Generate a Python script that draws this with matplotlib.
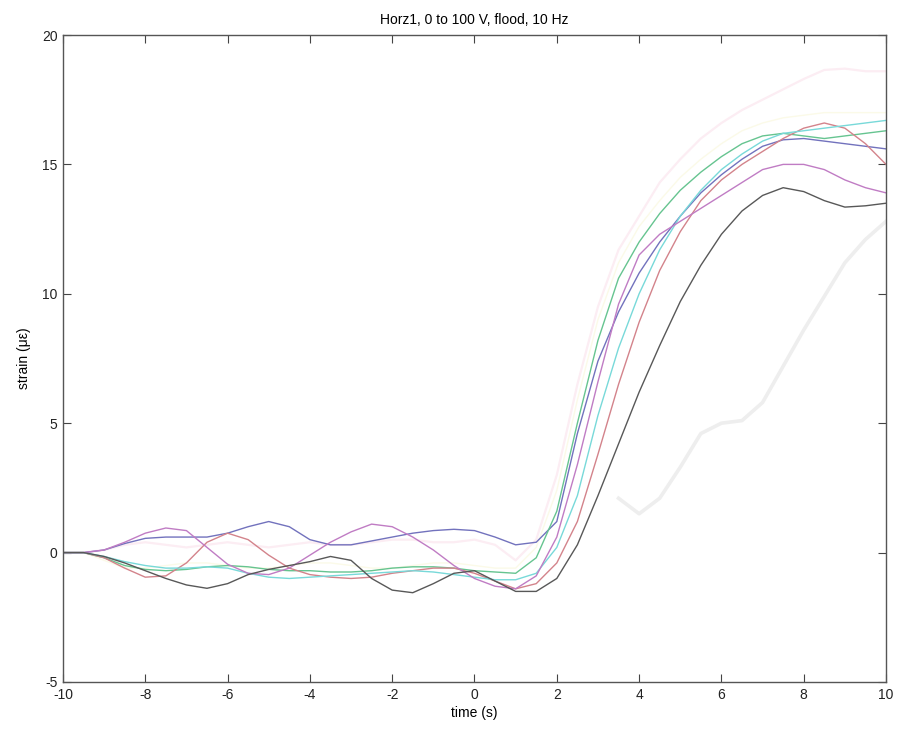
import numpy as np
import matplotlib
matplotlib.use("Agg")
import matplotlib.pyplot as plt

plt.rcParams["axes.unicode_minus"] = False

# time base (s), one sample every 0.5 s
t = np.arange(-10.0, 10.01, 0.5)

# strain traces (microstrain)
trace_b = [0, 0, 0.1, 0.35, 0.55, 0.6, 0.6, 0.6, 0.75, 1.0, 1.2, 1.0, 0.5, 0.3, 0.3, 0.45, 0.6, 0.75, 0.85, 0.9, 0.85,
           0.6, 0.3, 0.4, 1.2, 4.6, 7.4, 9.3, 10.8, 12.0, 13.0, 13.9, 14.6, 15.2, 15.7, 15.95, 16.0, 15.9, 15.8, 15.7, 15.6]
trace_g = [0, 0, -0.2, -0.5, -0.65, -0.7, -0.65, -0.55, -0.5, -0.55, -0.65, -0.7, -0.7, -0.75, -0.75, -0.7, -0.6, -0.55,
           -0.55, -0.6, -0.7, -0.75, -0.8, -0.2, 1.6, 5.0, 8.2, 10.6, 12.0, 13.1, 14.0, 14.7, 15.3, 15.8, 16.1, 16.2, 16.1,
           16.0, 16.1, 16.2, 16.3]
trace_r = [0, 0, -0.2, -0.6, -0.95, -0.9, -0.4, 0.4, 0.75, 0.5, -0.1, -0.6, -0.85, -0.95, -1.0, -0.95, -0.8, -0.7, -0.6,
           -0.6, -0.8, -1.1, -1.4, -1.2, -0.4, 1.2, 3.8, 6.5, 8.9, 10.9, 12.4, 13.6, 14.4, 15.0, 15.5, 16.0, 16.4, 16.6,
           16.4, 15.8, 15.0]
trace_c = [0, 0, -0.15, -0.35, -0.5, -0.6, -0.6, -0.55, -0.6, -0.8, -0.95, -1.0, -0.95, -0.9, -0.85, -0.8, -0.75, -0.7,
           -0.75, -0.85, -0.95, -1.05, -1.05, -0.8, 0.2, 2.2, 5.3, 7.9, 10.0, 11.7, 13.0, 14.0, 14.8, 15.4, 15.9, 16.2,
           16.3, 16.4, 16.5, 16.6, 16.7]
trace_m = [0, 0, 0.1, 0.4, 0.75, 0.95, 0.85, 0.2, -0.45, -0.8, -0.85, -0.6, -0.1, 0.4, 0.8, 1.1, 1.0, 0.6, 0.1, -0.5,
           -1.0, -1.3, -1.4, -0.9, 0.6, 3.4, 6.6, 9.6, 11.5, 12.3, 12.8, 13.3, 13.8, 14.3, 14.8, 15.0, 15.0, 14.8, 14.4,
           14.1, 13.9]
trace_k = [0, 0, -0.15, -0.4, -0.7, -1.0, -1.25, -1.38, -1.2, -0.85, -0.65, -0.5, -0.35, -0.15, -0.3, -1.0, -1.45, -1.55,
           -1.2, -0.8, -0.7, -1.1, -1.5, -1.5, -1.0, 0.3, 2.2, 4.2, 6.2, 8.0, 9.7, 11.1, 12.3, 13.2, 13.8, 14.1, 13.95,
           13.6, 13.35, 13.4, 13.5]
trace_y = [0, 0, -0.3, -0.6, -0.6, -0.5, -0.4, -0.4, -0.5, -0.6, -0.6, -0.5, -0.4, -0.4, -0.5, -0.6, -0.6, -0.5, -0.4,
           -0.4, -0.5, -0.6, -0.6, 0.2, 2.4, 5.9, 9.0, 11.2, 12.6, 13.6, 14.5, 15.2, 15.8, 16.3, 16.6, 16.8, 16.9, 17.0,
           17.0, 17.0, 17.0]
trace_pink = [0, 0, 0.1, 0.3, 0.4, 0.3, 0.2, 0.3, 0.4, 0.3, 0.2, 0.3, 0.4, 0.3, 0.3, 0.4, 0.5, 0.5, 0.4, 0.4, 0.5, 0.3,
              -0.3, 0.5, 3.0, 6.5, 9.5, 11.7, 13.0, 14.3, 15.2, 16.0, 16.6, 17.1, 17.5, 17.9, 18.3, 18.65, 18.7, 18.6,
              18.6]
trace_grey = [np.nan] * 27 + [2.1, 1.5, 2.1, 3.3, 4.6, 5.0, 5.1, 5.8, 7.2, 8.6, 9.9, 11.2, 12.1, 12.8]

fig = plt.figure(figsize=(9.02, 7.40), dpi=100)
ax = fig.add_axes([0.0698, 0.0784, 0.9125, 0.8743])

ax.plot(t, trace_grey, color="#eeeeee", lw=2.6)
ax.plot(t, trace_pink, color="#fcedf3", lw=1.6)
ax.plot(t, trace_y, color="#fbfae8", lw=1.0)
ax.plot(t, trace_b, color="#7272bd", lw=1.0)
ax.plot(t, trace_g, color="#66c490", lw=1.0)
ax.plot(t, trace_r, color="#d3838b", lw=1.0)
ax.plot(t, trace_c, color="#78d9d9", lw=1.0)
ax.plot(t, trace_m, color="#c07cc4", lw=1.0)
ax.plot(t, trace_k, color="#585858", lw=1.0)

ax.set_xlim(-10, 10)
ax.set_ylim(-5, 20)
ax.set_xticks(np.arange(-10, 11, 2))
ax.set_yticks(np.arange(-5, 21, 5))

font = {"family": "Liberation Sans", "size": 10}
ax.set_title("Horz1, 0 to 100 V, flood, 10 Hz", fontdict=font, pad=8)
ax.set_xlabel("time (s)", fontdict=font, labelpad=3)
ax.set_ylabel("strain (\u03bc\u03b5)", fontdict=font, labelpad=8)
for lab in ax.get_xticklabels() + ax.get_yticklabels():
    lab.set_family("Liberation Sans")
    lab.set_fontsize(10)

ax.tick_params(direction="in", length=6, width=0.8, color="#444444", top=True, right=True, labelcolor="#222222", pad=4)
for sp in ax.spines.values():
    sp.set_color("#555555")
    sp.set_linewidth(1.0)

fig.savefig("out.png", dpi=100)
